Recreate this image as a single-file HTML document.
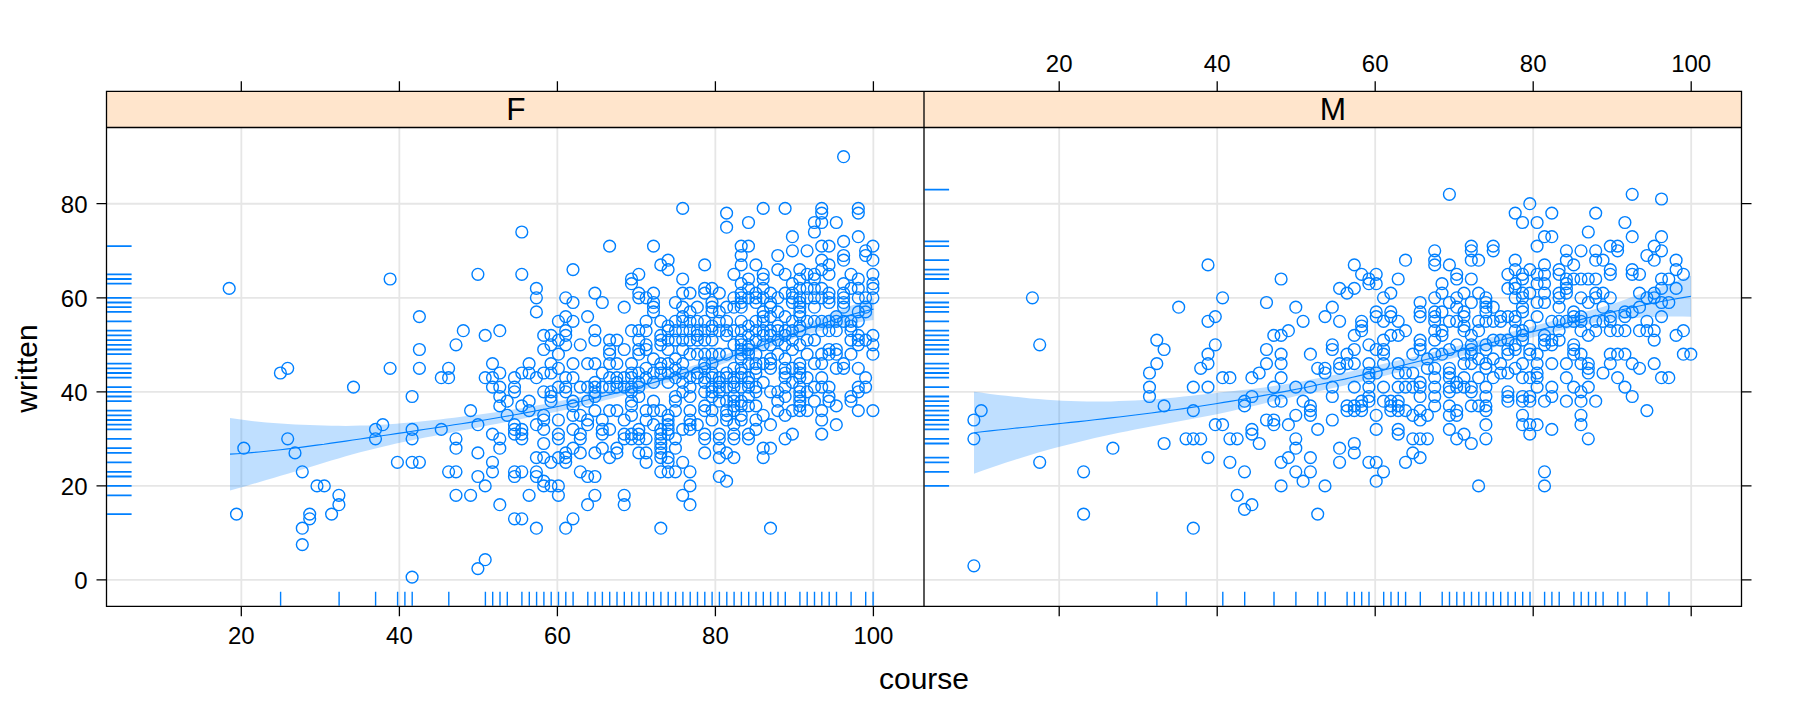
<!DOCTYPE html>
<html lang="en"><head><meta charset="utf-8"><title>written ~ course | gender</title>
<style>html,body{margin:0;padding:0;background:#fff}svg{display:block}text{font-family:"Liberation Sans",Arial,Helvetica,sans-serif;fill:#000}.t{font-size:24px}.l{font-size:30px}.ax{stroke:#000;stroke-width:1.3;fill:none}.g{stroke:#e6e6e6;stroke-width:1.8;fill:none}.p{stroke:#0080ff;stroke-width:1.4;fill:none}.r{stroke:#0080ff;stroke-width:1.4;fill:none}.b{fill:#0080ff;fill-opacity:.25;stroke:none}.s{stroke:#0080ff;stroke-width:1.15;fill:none}</style></head><body>
<svg width="1800" height="720" viewBox="0 0 1800 720">
<rect width="1800" height="720" fill="#fff"/>
<defs><clipPath id="cf"><rect x="106.5" y="127.5" width="817.5" height="478.8"/></clipPath><clipPath id="cm"><rect x="924" y="127.5" width="817.5" height="478.8"/></clipPath></defs>
<path class="g" d="M106.5 579.9H1741.5M106.5 485.86H1741.5M106.5 391.82H1741.5M106.5 297.78H1741.5M106.5 203.74H1741.5M241.35 127.5V606.3M1059.2 127.5V606.3M399.35 127.5V606.3M1217.2 127.5V606.3M557.35 127.5V606.3M1375.2 127.5V606.3M715.35 127.5V606.3M1533.2 127.5V606.3M873.35 127.5V606.3M1691.2 127.5V606.3"/>
<polygon class="b" points="230.0,417.9 237.2,419.0 244.5,420.1 251.7,421.0 258.9,421.8 266.2,422.5 273.4,423.1 280.6,423.6 287.8,424.1 295.1,424.4 302.3,424.8 309.5,425.0 316.8,425.3 324.0,425.5 331.2,425.7 338.5,425.8 345.7,425.9 352.9,425.8 360.1,425.6 367.4,425.4 374.6,425.0 381.8,424.7 389.1,424.2 396.3,423.7 403.5,423.1 410.8,422.4 418.0,421.7 425.2,421.0 432.4,420.2 439.7,419.4 446.9,418.5 454.1,417.7 461.4,416.8 468.6,415.8 475.8,414.9 483.1,413.9 490.3,412.9 497.5,411.9 504.8,410.8 512.0,409.7 519.2,408.6 526.4,407.4 533.7,406.1 540.9,404.8 548.1,403.4 555.4,402.0 562.6,400.5 569.8,399.0 577.1,397.5 584.3,395.9 591.5,394.3 598.7,392.6 606.0,390.9 613.2,389.1 620.4,387.3 627.7,385.4 634.9,383.4 642.1,381.4 649.4,379.3 656.6,377.2 663.8,375.1 671.1,372.8 678.3,370.5 685.5,368.2 692.7,365.8 700.0,363.4 707.2,361.0 714.4,358.4 721.7,355.9 728.9,353.3 736.1,350.7 743.4,348.0 750.6,345.3 757.8,342.6 765.0,339.8 772.3,337.1 779.5,334.3 786.7,331.4 794.0,328.6 801.2,325.7 808.4,322.8 815.7,319.8 822.9,316.8 830.1,313.8 837.3,311.0 844.6,308.2 851.8,305.5 859.0,302.9 866.3,300.4 873.5,298.0 873.5,320.1 866.3,321.1 859.0,322.2 851.8,323.6 844.6,325.0 837.3,326.7 830.1,328.4 822.9,330.2 815.7,332.1 808.4,334.1 801.2,336.3 794.0,338.6 786.7,341.0 779.5,343.5 772.3,346.1 765.0,348.7 757.8,351.3 750.6,353.9 743.4,356.5 736.1,359.1 728.9,361.7 721.7,364.3 714.4,366.9 707.2,369.4 700.0,371.9 692.7,374.3 685.5,376.7 678.3,379.1 671.1,381.4 663.8,383.7 656.6,385.9 649.4,388.1 642.1,390.2 634.9,392.3 627.7,394.3 620.4,396.3 613.2,398.3 606.0,400.1 598.7,402.0 591.5,403.8 584.3,405.5 577.1,407.2 569.8,408.9 562.6,410.5 555.4,412.0 548.1,413.5 540.9,415.0 533.7,416.5 526.4,417.9 519.2,419.4 512.0,420.8 504.8,422.3 497.5,423.7 490.3,425.1 483.1,426.5 475.8,427.9 468.6,429.3 461.4,430.6 454.1,432.0 446.9,433.4 439.7,434.8 432.4,436.2 425.2,437.6 418.0,439.1 410.8,440.5 403.5,442.0 396.3,443.6 389.1,445.2 381.8,446.9 374.6,448.7 367.4,450.5 360.1,452.3 352.9,454.3 345.7,456.3 338.5,458.4 331.2,460.6 324.0,462.8 316.8,465.0 309.5,467.2 302.3,469.4 295.1,471.5 287.8,473.7 280.6,475.8 273.4,478.0 266.2,480.1 258.9,482.2 251.7,484.3 244.5,486.4 237.2,488.4 230.0,490.4"/>
<polyline class="s" points="230.0,454.1 237.2,453.7 244.5,453.2 251.7,452.6 258.9,452.0 266.2,451.3 273.4,450.5 280.6,449.7 287.8,448.9 295.1,448.0 302.3,447.1 309.5,446.1 316.8,445.1 324.0,444.2 331.2,443.1 338.5,442.1 345.7,441.1 352.9,440.0 360.1,439.0 367.4,437.9 374.6,436.9 381.8,435.8 389.1,434.7 396.3,433.6 403.5,432.6 410.8,431.5 418.0,430.4 425.2,429.3 432.4,428.2 439.7,427.1 446.9,426.0 454.1,424.8 461.4,423.7 468.6,422.6 475.8,421.4 483.1,420.2 490.3,419.0 497.5,417.8 504.8,416.5 512.0,415.3 519.2,414.0 526.4,412.6 533.7,411.3 540.9,409.9 548.1,408.5 555.4,407.0 562.6,405.5 569.8,403.9 577.1,402.3 584.3,400.7 591.5,399.0 598.7,397.3 606.0,395.5 613.2,393.7 620.4,391.8 627.7,389.9 634.9,387.9 642.1,385.8 649.4,383.7 656.6,381.6 663.8,379.4 671.1,377.1 678.3,374.8 685.5,372.5 692.7,370.1 700.0,367.6 707.2,365.2 714.4,362.6 721.7,360.1 728.9,357.5 736.1,354.9 743.4,352.2 750.6,349.6 757.8,346.9 765.0,344.2 772.3,341.6 779.5,338.9 786.7,336.2 794.0,333.6 801.2,331.0 808.4,328.4 815.7,325.9 822.9,323.5 830.1,321.1 837.3,318.8 844.6,316.6 851.8,314.5 859.0,312.6 866.3,310.7 873.5,309.1"/>
<polygon class="b" points="974.0,391.7 982.1,392.8 990.1,393.9 998.2,394.9 1006.2,395.8 1014.3,396.7 1022.3,397.5 1030.4,398.4 1038.4,399.1 1046.5,399.8 1054.6,400.3 1062.6,400.7 1070.7,401.0 1078.7,401.2 1086.8,401.4 1094.8,401.5 1102.9,401.5 1111.0,401.4 1119.0,401.1 1127.1,400.8 1135.1,400.5 1143.2,400.0 1151.2,399.5 1159.3,398.9 1167.3,398.2 1175.4,397.4 1183.5,396.6 1191.5,395.7 1199.6,394.8 1207.6,393.9 1215.7,393.0 1223.7,392.1 1231.8,391.2 1239.9,390.3 1247.9,389.4 1256.0,388.4 1264.0,387.4 1272.1,386.3 1280.1,385.1 1288.2,383.8 1296.2,382.4 1304.3,380.9 1312.4,379.3 1320.4,377.7 1328.5,376.1 1336.5,374.4 1344.6,372.7 1352.6,370.9 1360.7,369.1 1368.8,367.3 1376.8,365.5 1384.9,363.6 1392.9,361.7 1401.0,359.8 1409.0,357.9 1417.1,356.0 1425.1,354.0 1433.2,352.0 1441.3,350.0 1449.3,348.0 1457.4,345.9 1465.4,343.8 1473.5,341.7 1481.5,339.6 1489.6,337.5 1497.7,335.4 1505.7,333.3 1513.8,331.2 1521.8,329.1 1529.9,326.9 1537.9,324.8 1546.0,322.7 1554.0,320.5 1562.1,318.3 1570.2,316.1 1578.2,313.8 1586.3,311.6 1594.3,309.3 1602.4,307.0 1610.4,304.6 1618.5,301.9 1626.6,299.0 1634.6,296.0 1642.7,293.1 1650.7,290.2 1658.8,287.3 1666.8,284.4 1674.9,281.5 1682.9,278.6 1691.0,275.7 1691.0,316.8 1682.9,316.6 1674.9,316.4 1666.8,316.5 1658.8,316.7 1650.7,317.0 1642.7,317.4 1634.6,317.9 1626.6,318.5 1618.5,319.2 1610.4,320.1 1602.4,321.5 1594.3,323.1 1586.3,324.7 1578.2,326.4 1570.2,328.2 1562.1,330.1 1554.0,332.0 1546.0,333.9 1537.9,336.0 1529.9,338.0 1521.8,340.2 1513.8,342.3 1505.7,344.4 1497.7,346.5 1489.6,348.7 1481.5,350.8 1473.5,352.9 1465.4,355.0 1457.4,357.1 1449.3,359.2 1441.3,361.3 1433.2,363.5 1425.1,365.6 1417.1,367.7 1409.0,369.7 1401.0,371.8 1392.9,373.8 1384.9,375.8 1376.8,377.8 1368.8,379.8 1360.7,381.7 1352.6,383.6 1344.6,385.4 1336.5,387.3 1328.5,389.1 1320.4,390.9 1312.4,392.6 1304.3,394.4 1296.2,396.1 1288.2,397.9 1280.1,399.8 1272.1,401.6 1264.0,403.5 1256.0,405.4 1247.9,407.3 1239.9,409.1 1231.8,410.9 1223.7,412.7 1215.7,414.4 1207.6,416.0 1199.6,417.6 1191.5,419.1 1183.5,420.5 1175.4,422.0 1167.3,423.5 1159.3,425.0 1151.2,426.5 1143.2,428.0 1135.1,429.6 1127.1,431.2 1119.0,432.8 1111.0,434.5 1102.9,436.3 1094.8,438.1 1086.8,440.0 1078.7,441.9 1070.7,443.9 1062.6,445.9 1054.6,448.0 1046.5,450.2 1038.4,452.5 1030.4,455.0 1022.3,457.5 1014.3,460.0 1006.2,462.6 998.2,465.2 990.1,468.0 982.1,470.8 974.0,473.7"/>
<polyline class="s" points="974.0,432.7 982.1,431.8 990.1,430.9 998.2,430.0 1006.2,429.2 1014.3,428.3 1022.3,427.5 1030.4,426.7 1038.4,425.8 1046.5,425.0 1054.6,424.1 1062.6,423.3 1070.7,422.4 1078.7,421.6 1086.8,420.7 1094.8,419.8 1102.9,418.9 1111.0,417.9 1119.0,417.0 1127.1,416.0 1135.1,415.0 1143.2,414.0 1151.2,413.0 1159.3,411.9 1167.3,410.8 1175.4,409.7 1183.5,408.6 1191.5,407.4 1199.6,406.2 1207.6,405.0 1215.7,403.7 1223.7,402.4 1231.8,401.1 1239.9,399.7 1247.9,398.3 1256.0,396.9 1264.0,395.4 1272.1,394.0 1280.1,392.4 1288.2,390.9 1296.2,389.3 1304.3,387.7 1312.4,386.0 1320.4,384.3 1328.5,382.6 1336.5,380.8 1344.6,379.1 1352.6,377.2 1360.7,375.4 1368.8,373.5 1376.8,371.6 1384.9,369.7 1392.9,367.8 1401.0,365.8 1409.0,363.8 1417.1,361.8 1425.1,359.8 1433.2,357.8 1441.3,355.7 1449.3,353.6 1457.4,351.5 1465.4,349.4 1473.5,347.3 1481.5,345.2 1489.6,343.1 1497.7,341.0 1505.7,338.8 1513.8,336.7 1521.8,334.6 1529.9,332.5 1537.9,330.4 1546.0,328.3 1554.0,326.2 1562.1,324.2 1570.2,322.1 1578.2,320.1 1586.3,318.1 1594.3,316.2 1602.4,314.3 1610.4,312.4 1618.5,310.5 1626.6,308.7 1634.6,307.0 1642.7,305.3 1650.7,303.6 1658.8,302.0 1666.8,300.5 1674.9,299.0 1682.9,297.6 1691.0,296.2"/>
<g class="p" clip-path="url(#cf)">
<circle cx="229.2" cy="288.4" r="5.9"/><circle cx="390.1" cy="279.0" r="5.9"/><circle cx="477.9" cy="274.3" r="5.9"/><circle cx="419.4" cy="316.6" r="5.9"/><circle cx="463.3" cy="330.7" r="5.9"/><circle cx="456.0" cy="344.8" r="5.9"/><circle cx="419.4" cy="349.5" r="5.9"/><circle cx="390.1" cy="368.3" r="5.9"/><circle cx="419.4" cy="368.3" r="5.9"/><circle cx="287.7" cy="368.3" r="5.9"/><circle cx="280.4" cy="373.0" r="5.9"/><circle cx="448.6" cy="368.3" r="5.9"/><circle cx="441.3" cy="377.7" r="5.9"/><circle cx="448.6" cy="377.7" r="5.9"/><circle cx="353.5" cy="387.1" r="5.9"/><circle cx="412.1" cy="396.5" r="5.9"/><circle cx="470.6" cy="410.6" r="5.9"/><circle cx="382.8" cy="424.7" r="5.9"/><circle cx="375.5" cy="429.4" r="5.9"/><circle cx="412.1" cy="429.4" r="5.9"/><circle cx="441.3" cy="429.4" r="5.9"/><circle cx="477.9" cy="424.7" r="5.9"/><circle cx="375.5" cy="438.8" r="5.9"/><circle cx="412.1" cy="438.8" r="5.9"/><circle cx="456.0" cy="438.8" r="5.9"/><circle cx="287.7" cy="438.8" r="5.9"/><circle cx="243.8" cy="448.2" r="5.9"/><circle cx="295.0" cy="452.9" r="5.9"/><circle cx="456.0" cy="448.2" r="5.9"/><circle cx="477.9" cy="452.9" r="5.9"/><circle cx="397.4" cy="462.3" r="5.9"/><circle cx="412.1" cy="462.3" r="5.9"/><circle cx="419.4" cy="462.3" r="5.9"/><circle cx="302.3" cy="471.8" r="5.9"/><circle cx="448.6" cy="471.8" r="5.9"/><circle cx="456.0" cy="471.8" r="5.9"/><circle cx="477.9" cy="476.5" r="5.9"/><circle cx="317.0" cy="485.9" r="5.9"/><circle cx="324.3" cy="485.9" r="5.9"/><circle cx="338.9" cy="495.3" r="5.9"/><circle cx="338.9" cy="504.7" r="5.9"/><circle cx="331.6" cy="514.1" r="5.9"/><circle cx="309.7" cy="514.1" r="5.9"/><circle cx="309.7" cy="518.8" r="5.9"/><circle cx="302.3" cy="528.2" r="5.9"/><circle cx="302.3" cy="544.6" r="5.9"/><circle cx="236.5" cy="514.1" r="5.9"/><circle cx="412.1" cy="577.1" r="5.9"/><circle cx="485.2" cy="559.7" r="5.9"/><circle cx="477.9" cy="568.6" r="5.9"/><circle cx="456.0" cy="495.3" r="5.9"/><circle cx="470.6" cy="495.3" r="5.9"/><circle cx="682.7" cy="208.4" r="5.9"/><circle cx="726.6" cy="213.1" r="5.9"/><circle cx="521.8" cy="232.0" r="5.9"/><circle cx="609.6" cy="246.1" r="5.9"/><circle cx="573.0" cy="269.6" r="5.9"/><circle cx="521.8" cy="274.3" r="5.9"/><circle cx="536.4" cy="288.4" r="5.9"/><circle cx="536.4" cy="297.8" r="5.9"/><circle cx="565.7" cy="297.8" r="5.9"/><circle cx="573.0" cy="302.5" r="5.9"/><circle cx="594.9" cy="293.1" r="5.9"/><circle cx="602.3" cy="302.5" r="5.9"/><circle cx="624.2" cy="307.2" r="5.9"/><circle cx="536.4" cy="311.9" r="5.9"/><circle cx="565.7" cy="316.6" r="5.9"/><circle cx="587.6" cy="316.6" r="5.9"/><circle cx="558.4" cy="321.3" r="5.9"/><circle cx="573.0" cy="321.3" r="5.9"/><circle cx="565.7" cy="330.7" r="5.9"/><circle cx="499.8" cy="330.7" r="5.9"/><circle cx="594.9" cy="330.7" r="5.9"/><circle cx="565.7" cy="335.4" r="5.9"/><circle cx="485.2" cy="335.4" r="5.9"/><circle cx="543.7" cy="335.4" r="5.9"/><circle cx="551.0" cy="335.4" r="5.9"/><circle cx="558.4" cy="340.1" r="5.9"/><circle cx="594.9" cy="340.1" r="5.9"/><circle cx="609.6" cy="340.1" r="5.9"/><circle cx="616.9" cy="340.1" r="5.9"/><circle cx="565.7" cy="344.8" r="5.9"/><circle cx="551.0" cy="344.8" r="5.9"/><circle cx="580.3" cy="344.8" r="5.9"/><circle cx="543.7" cy="349.5" r="5.9"/><circle cx="609.6" cy="349.5" r="5.9"/><circle cx="624.2" cy="349.5" r="5.9"/><circle cx="558.4" cy="354.2" r="5.9"/><circle cx="609.6" cy="354.2" r="5.9"/><circle cx="492.5" cy="363.6" r="5.9"/><circle cx="529.1" cy="363.6" r="5.9"/><circle cx="551.0" cy="363.6" r="5.9"/><circle cx="573.0" cy="363.6" r="5.9"/><circle cx="587.6" cy="363.6" r="5.9"/><circle cx="594.9" cy="363.6" r="5.9"/><circle cx="609.6" cy="363.6" r="5.9"/><circle cx="616.9" cy="363.6" r="5.9"/><circle cx="558.4" cy="368.3" r="5.9"/><circle cx="499.8" cy="373.0" r="5.9"/><circle cx="521.8" cy="373.0" r="5.9"/><circle cx="529.1" cy="373.0" r="5.9"/><circle cx="543.7" cy="373.0" r="5.9"/><circle cx="551.0" cy="373.0" r="5.9"/><circle cx="602.3" cy="373.0" r="5.9"/><circle cx="485.2" cy="377.7" r="5.9"/><circle cx="492.5" cy="377.7" r="5.9"/><circle cx="514.5" cy="377.7" r="5.9"/><circle cx="536.4" cy="377.7" r="5.9"/><circle cx="565.7" cy="377.7" r="5.9"/><circle cx="573.0" cy="377.7" r="5.9"/><circle cx="609.6" cy="377.7" r="5.9"/><circle cx="616.9" cy="377.7" r="5.9"/><circle cx="624.2" cy="377.7" r="5.9"/><circle cx="492.5" cy="387.1" r="5.9"/><circle cx="499.8" cy="387.1" r="5.9"/><circle cx="514.5" cy="387.1" r="5.9"/><circle cx="558.4" cy="387.1" r="5.9"/><circle cx="565.7" cy="387.1" r="5.9"/><circle cx="580.3" cy="387.1" r="5.9"/><circle cx="587.6" cy="387.1" r="5.9"/><circle cx="594.9" cy="387.1" r="5.9"/><circle cx="609.6" cy="387.1" r="5.9"/><circle cx="616.9" cy="387.1" r="5.9"/><circle cx="514.5" cy="391.8" r="5.9"/><circle cx="543.7" cy="391.8" r="5.9"/><circle cx="551.0" cy="391.8" r="5.9"/><circle cx="565.7" cy="391.8" r="5.9"/><circle cx="594.9" cy="391.8" r="5.9"/><circle cx="499.8" cy="396.5" r="5.9"/><circle cx="551.0" cy="396.5" r="5.9"/><circle cx="594.9" cy="396.5" r="5.9"/><circle cx="507.2" cy="401.2" r="5.9"/><circle cx="529.1" cy="401.2" r="5.9"/><circle cx="551.0" cy="401.2" r="5.9"/><circle cx="573.0" cy="401.2" r="5.9"/><circle cx="499.8" cy="405.9" r="5.9"/><circle cx="521.8" cy="405.9" r="5.9"/><circle cx="573.0" cy="405.9" r="5.9"/><circle cx="529.1" cy="410.6" r="5.9"/><circle cx="594.9" cy="410.6" r="5.9"/><circle cx="609.6" cy="410.6" r="5.9"/><circle cx="616.9" cy="410.6" r="5.9"/><circle cx="507.2" cy="415.3" r="5.9"/><circle cx="543.7" cy="415.3" r="5.9"/><circle cx="573.0" cy="415.3" r="5.9"/><circle cx="580.3" cy="415.3" r="5.9"/><circle cx="543.7" cy="420.0" r="5.9"/><circle cx="558.4" cy="420.0" r="5.9"/><circle cx="587.6" cy="420.0" r="5.9"/><circle cx="602.3" cy="420.0" r="5.9"/><circle cx="624.2" cy="420.0" r="5.9"/><circle cx="514.5" cy="424.7" r="5.9"/><circle cx="536.4" cy="424.7" r="5.9"/><circle cx="587.6" cy="424.7" r="5.9"/><circle cx="514.5" cy="429.4" r="5.9"/><circle cx="521.8" cy="429.4" r="5.9"/><circle cx="543.7" cy="429.4" r="5.9"/><circle cx="573.0" cy="429.4" r="5.9"/><circle cx="602.3" cy="429.4" r="5.9"/><circle cx="609.6" cy="429.4" r="5.9"/><circle cx="492.5" cy="434.1" r="5.9"/><circle cx="514.5" cy="434.1" r="5.9"/><circle cx="521.8" cy="434.1" r="5.9"/><circle cx="558.4" cy="434.1" r="5.9"/><circle cx="580.3" cy="434.1" r="5.9"/><circle cx="602.3" cy="434.1" r="5.9"/><circle cx="624.2" cy="434.1" r="5.9"/><circle cx="499.8" cy="438.8" r="5.9"/><circle cx="521.8" cy="438.8" r="5.9"/><circle cx="558.4" cy="438.8" r="5.9"/><circle cx="580.3" cy="438.8" r="5.9"/><circle cx="624.2" cy="438.8" r="5.9"/><circle cx="543.7" cy="443.5" r="5.9"/><circle cx="499.8" cy="448.2" r="5.9"/><circle cx="573.0" cy="448.2" r="5.9"/><circle cx="602.3" cy="448.2" r="5.9"/><circle cx="616.9" cy="448.2" r="5.9"/><circle cx="565.7" cy="452.9" r="5.9"/><circle cx="580.3" cy="452.9" r="5.9"/><circle cx="594.9" cy="452.9" r="5.9"/><circle cx="616.9" cy="452.9" r="5.9"/><circle cx="536.4" cy="457.6" r="5.9"/><circle cx="543.7" cy="457.6" r="5.9"/><circle cx="558.4" cy="457.6" r="5.9"/><circle cx="565.7" cy="457.6" r="5.9"/><circle cx="609.6" cy="457.6" r="5.9"/><circle cx="492.5" cy="462.3" r="5.9"/><circle cx="551.0" cy="462.3" r="5.9"/><circle cx="565.7" cy="462.3" r="5.9"/><circle cx="492.5" cy="471.8" r="5.9"/><circle cx="514.5" cy="471.8" r="5.9"/><circle cx="521.8" cy="471.8" r="5.9"/><circle cx="536.4" cy="471.8" r="5.9"/><circle cx="580.3" cy="471.8" r="5.9"/><circle cx="514.5" cy="476.5" r="5.9"/><circle cx="536.4" cy="476.5" r="5.9"/><circle cx="587.6" cy="476.5" r="5.9"/><circle cx="594.9" cy="476.5" r="5.9"/><circle cx="543.7" cy="481.2" r="5.9"/><circle cx="485.2" cy="485.9" r="5.9"/><circle cx="543.7" cy="485.9" r="5.9"/><circle cx="551.0" cy="485.9" r="5.9"/><circle cx="558.4" cy="485.9" r="5.9"/><circle cx="529.1" cy="495.3" r="5.9"/><circle cx="558.4" cy="495.3" r="5.9"/><circle cx="594.9" cy="495.3" r="5.9"/><circle cx="624.2" cy="495.3" r="5.9"/><circle cx="499.8" cy="504.7" r="5.9"/><circle cx="587.6" cy="504.7" r="5.9"/><circle cx="624.2" cy="504.7" r="5.9"/><circle cx="514.5" cy="518.8" r="5.9"/><circle cx="521.8" cy="518.8" r="5.9"/><circle cx="573.0" cy="518.8" r="5.9"/><circle cx="536.4" cy="528.2" r="5.9"/><circle cx="565.7" cy="528.2" r="5.9"/><circle cx="748.5" cy="222.5" r="5.9"/><circle cx="726.6" cy="227.2" r="5.9"/><circle cx="653.5" cy="246.1" r="5.9"/><circle cx="741.2" cy="246.1" r="5.9"/><circle cx="748.5" cy="246.1" r="5.9"/><circle cx="741.2" cy="255.5" r="5.9"/><circle cx="668.1" cy="260.2" r="5.9"/><circle cx="660.8" cy="264.9" r="5.9"/><circle cx="704.7" cy="264.9" r="5.9"/><circle cx="741.2" cy="264.9" r="5.9"/><circle cx="755.9" cy="264.9" r="5.9"/><circle cx="668.1" cy="269.6" r="5.9"/><circle cx="638.8" cy="274.3" r="5.9"/><circle cx="733.9" cy="274.3" r="5.9"/><circle cx="763.2" cy="274.3" r="5.9"/><circle cx="631.5" cy="279.0" r="5.9"/><circle cx="682.7" cy="279.0" r="5.9"/><circle cx="748.5" cy="279.0" r="5.9"/><circle cx="763.2" cy="279.0" r="5.9"/><circle cx="631.5" cy="283.7" r="5.9"/><circle cx="741.2" cy="283.7" r="5.9"/><circle cx="704.7" cy="288.4" r="5.9"/><circle cx="712.0" cy="288.4" r="5.9"/><circle cx="748.5" cy="288.4" r="5.9"/><circle cx="763.2" cy="288.4" r="5.9"/><circle cx="638.8" cy="293.1" r="5.9"/><circle cx="653.5" cy="293.1" r="5.9"/><circle cx="682.7" cy="293.1" r="5.9"/><circle cx="690.0" cy="293.1" r="5.9"/><circle cx="704.7" cy="293.1" r="5.9"/><circle cx="719.3" cy="293.1" r="5.9"/><circle cx="741.2" cy="293.1" r="5.9"/><circle cx="755.9" cy="293.1" r="5.9"/><circle cx="638.8" cy="297.8" r="5.9"/><circle cx="646.1" cy="297.8" r="5.9"/><circle cx="733.9" cy="297.8" r="5.9"/><circle cx="741.2" cy="297.8" r="5.9"/><circle cx="748.5" cy="297.8" r="5.9"/><circle cx="755.9" cy="297.8" r="5.9"/><circle cx="763.2" cy="297.8" r="5.9"/><circle cx="653.5" cy="302.5" r="5.9"/><circle cx="675.4" cy="302.5" r="5.9"/><circle cx="712.0" cy="302.5" r="5.9"/><circle cx="741.2" cy="302.5" r="5.9"/><circle cx="755.9" cy="302.5" r="5.9"/><circle cx="653.5" cy="307.2" r="5.9"/><circle cx="682.7" cy="307.2" r="5.9"/><circle cx="697.3" cy="307.2" r="5.9"/><circle cx="712.0" cy="307.2" r="5.9"/><circle cx="726.6" cy="307.2" r="5.9"/><circle cx="733.9" cy="307.2" r="5.9"/><circle cx="741.2" cy="307.2" r="5.9"/><circle cx="653.5" cy="311.9" r="5.9"/><circle cx="690.0" cy="311.9" r="5.9"/><circle cx="712.0" cy="311.9" r="5.9"/><circle cx="719.3" cy="311.9" r="5.9"/><circle cx="763.2" cy="311.9" r="5.9"/><circle cx="682.7" cy="316.6" r="5.9"/><circle cx="763.2" cy="316.6" r="5.9"/><circle cx="646.1" cy="321.3" r="5.9"/><circle cx="660.8" cy="321.3" r="5.9"/><circle cx="675.4" cy="321.3" r="5.9"/><circle cx="682.7" cy="321.3" r="5.9"/><circle cx="690.0" cy="321.3" r="5.9"/><circle cx="697.3" cy="321.3" r="5.9"/><circle cx="704.7" cy="321.3" r="5.9"/><circle cx="719.3" cy="321.3" r="5.9"/><circle cx="726.6" cy="321.3" r="5.9"/><circle cx="741.2" cy="321.3" r="5.9"/><circle cx="755.9" cy="321.3" r="5.9"/><circle cx="763.2" cy="321.3" r="5.9"/><circle cx="668.1" cy="326.0" r="5.9"/><circle cx="712.0" cy="326.0" r="5.9"/><circle cx="748.5" cy="326.0" r="5.9"/><circle cx="631.5" cy="330.7" r="5.9"/><circle cx="638.8" cy="330.7" r="5.9"/><circle cx="646.1" cy="330.7" r="5.9"/><circle cx="668.1" cy="330.7" r="5.9"/><circle cx="675.4" cy="330.7" r="5.9"/><circle cx="682.7" cy="330.7" r="5.9"/><circle cx="690.0" cy="330.7" r="5.9"/><circle cx="697.3" cy="330.7" r="5.9"/><circle cx="704.7" cy="330.7" r="5.9"/><circle cx="712.0" cy="330.7" r="5.9"/><circle cx="719.3" cy="330.7" r="5.9"/><circle cx="726.6" cy="330.7" r="5.9"/><circle cx="733.9" cy="330.7" r="5.9"/><circle cx="741.2" cy="330.7" r="5.9"/><circle cx="755.9" cy="330.7" r="5.9"/><circle cx="763.2" cy="330.7" r="5.9"/><circle cx="660.8" cy="335.4" r="5.9"/><circle cx="697.3" cy="335.4" r="5.9"/><circle cx="726.6" cy="335.4" r="5.9"/><circle cx="748.5" cy="335.4" r="5.9"/><circle cx="763.2" cy="335.4" r="5.9"/><circle cx="638.8" cy="340.1" r="5.9"/><circle cx="660.8" cy="340.1" r="5.9"/><circle cx="668.1" cy="340.1" r="5.9"/><circle cx="675.4" cy="340.1" r="5.9"/><circle cx="682.7" cy="340.1" r="5.9"/><circle cx="690.0" cy="340.1" r="5.9"/><circle cx="697.3" cy="340.1" r="5.9"/><circle cx="704.7" cy="340.1" r="5.9"/><circle cx="712.0" cy="340.1" r="5.9"/><circle cx="741.2" cy="340.1" r="5.9"/><circle cx="755.9" cy="340.1" r="5.9"/><circle cx="646.1" cy="344.8" r="5.9"/><circle cx="660.8" cy="344.8" r="5.9"/><circle cx="733.9" cy="344.8" r="5.9"/><circle cx="741.2" cy="344.8" r="5.9"/><circle cx="748.5" cy="344.8" r="5.9"/><circle cx="763.2" cy="344.8" r="5.9"/><circle cx="638.8" cy="349.5" r="5.9"/><circle cx="646.1" cy="349.5" r="5.9"/><circle cx="668.1" cy="349.5" r="5.9"/><circle cx="682.7" cy="349.5" r="5.9"/><circle cx="741.2" cy="349.5" r="5.9"/><circle cx="748.5" cy="349.5" r="5.9"/><circle cx="638.8" cy="354.2" r="5.9"/><circle cx="690.0" cy="354.2" r="5.9"/><circle cx="697.3" cy="354.2" r="5.9"/><circle cx="704.7" cy="354.2" r="5.9"/><circle cx="712.0" cy="354.2" r="5.9"/><circle cx="719.3" cy="354.2" r="5.9"/><circle cx="726.6" cy="354.2" r="5.9"/><circle cx="741.2" cy="354.2" r="5.9"/><circle cx="748.5" cy="354.2" r="5.9"/><circle cx="755.9" cy="354.2" r="5.9"/><circle cx="653.5" cy="358.9" r="5.9"/><circle cx="675.4" cy="358.9" r="5.9"/><circle cx="741.2" cy="358.9" r="5.9"/><circle cx="631.5" cy="363.6" r="5.9"/><circle cx="660.8" cy="363.6" r="5.9"/><circle cx="668.1" cy="363.6" r="5.9"/><circle cx="682.7" cy="363.6" r="5.9"/><circle cx="704.7" cy="363.6" r="5.9"/><circle cx="712.0" cy="363.6" r="5.9"/><circle cx="748.5" cy="363.6" r="5.9"/><circle cx="755.9" cy="363.6" r="5.9"/><circle cx="763.2" cy="363.6" r="5.9"/><circle cx="646.1" cy="368.3" r="5.9"/><circle cx="660.8" cy="368.3" r="5.9"/><circle cx="675.4" cy="368.3" r="5.9"/><circle cx="704.7" cy="368.3" r="5.9"/><circle cx="733.9" cy="368.3" r="5.9"/><circle cx="741.2" cy="368.3" r="5.9"/><circle cx="755.9" cy="368.3" r="5.9"/><circle cx="631.5" cy="373.0" r="5.9"/><circle cx="638.8" cy="373.0" r="5.9"/><circle cx="653.5" cy="373.0" r="5.9"/><circle cx="660.8" cy="373.0" r="5.9"/><circle cx="668.1" cy="373.0" r="5.9"/><circle cx="682.7" cy="373.0" r="5.9"/><circle cx="697.3" cy="373.0" r="5.9"/><circle cx="712.0" cy="373.0" r="5.9"/><circle cx="726.6" cy="373.0" r="5.9"/><circle cx="741.2" cy="373.0" r="5.9"/><circle cx="755.9" cy="373.0" r="5.9"/><circle cx="631.5" cy="377.7" r="5.9"/><circle cx="646.1" cy="377.7" r="5.9"/><circle cx="675.4" cy="377.7" r="5.9"/><circle cx="690.0" cy="377.7" r="5.9"/><circle cx="697.3" cy="377.7" r="5.9"/><circle cx="704.7" cy="377.7" r="5.9"/><circle cx="712.0" cy="377.7" r="5.9"/><circle cx="719.3" cy="377.7" r="5.9"/><circle cx="726.6" cy="377.7" r="5.9"/><circle cx="733.9" cy="377.7" r="5.9"/><circle cx="741.2" cy="377.7" r="5.9"/><circle cx="748.5" cy="377.7" r="5.9"/><circle cx="638.8" cy="382.4" r="5.9"/><circle cx="653.5" cy="382.4" r="5.9"/><circle cx="668.1" cy="382.4" r="5.9"/><circle cx="682.7" cy="382.4" r="5.9"/><circle cx="704.7" cy="382.4" r="5.9"/><circle cx="719.3" cy="382.4" r="5.9"/><circle cx="733.9" cy="382.4" r="5.9"/><circle cx="748.5" cy="382.4" r="5.9"/><circle cx="763.2" cy="382.4" r="5.9"/><circle cx="638.8" cy="387.1" r="5.9"/><circle cx="690.0" cy="387.1" r="5.9"/><circle cx="712.0" cy="387.1" r="5.9"/><circle cx="719.3" cy="387.1" r="5.9"/><circle cx="726.6" cy="387.1" r="5.9"/><circle cx="733.9" cy="387.1" r="5.9"/><circle cx="741.2" cy="387.1" r="5.9"/><circle cx="748.5" cy="387.1" r="5.9"/><circle cx="755.9" cy="387.1" r="5.9"/><circle cx="631.5" cy="391.8" r="5.9"/><circle cx="682.7" cy="391.8" r="5.9"/><circle cx="704.7" cy="391.8" r="5.9"/><circle cx="712.0" cy="391.8" r="5.9"/><circle cx="719.3" cy="391.8" r="5.9"/><circle cx="755.9" cy="391.8" r="5.9"/><circle cx="638.8" cy="396.5" r="5.9"/><circle cx="675.4" cy="396.5" r="5.9"/><circle cx="690.0" cy="396.5" r="5.9"/><circle cx="712.0" cy="396.5" r="5.9"/><circle cx="733.9" cy="396.5" r="5.9"/><circle cx="748.5" cy="396.5" r="5.9"/><circle cx="631.5" cy="401.2" r="5.9"/><circle cx="653.5" cy="401.2" r="5.9"/><circle cx="675.4" cy="401.2" r="5.9"/><circle cx="719.3" cy="401.2" r="5.9"/><circle cx="726.6" cy="401.2" r="5.9"/><circle cx="733.9" cy="401.2" r="5.9"/><circle cx="741.2" cy="401.2" r="5.9"/><circle cx="631.5" cy="405.9" r="5.9"/><circle cx="704.7" cy="405.9" r="5.9"/><circle cx="733.9" cy="405.9" r="5.9"/><circle cx="741.2" cy="405.9" r="5.9"/><circle cx="748.5" cy="405.9" r="5.9"/><circle cx="755.9" cy="405.9" r="5.9"/><circle cx="646.1" cy="410.6" r="5.9"/><circle cx="653.5" cy="410.6" r="5.9"/><circle cx="660.8" cy="410.6" r="5.9"/><circle cx="675.4" cy="410.6" r="5.9"/><circle cx="690.0" cy="410.6" r="5.9"/><circle cx="704.7" cy="410.6" r="5.9"/><circle cx="712.0" cy="410.6" r="5.9"/><circle cx="726.6" cy="410.6" r="5.9"/><circle cx="733.9" cy="410.6" r="5.9"/><circle cx="631.5" cy="415.3" r="5.9"/><circle cx="668.1" cy="415.3" r="5.9"/><circle cx="726.6" cy="415.3" r="5.9"/><circle cx="741.2" cy="415.3" r="5.9"/><circle cx="763.2" cy="415.3" r="5.9"/><circle cx="646.1" cy="420.0" r="5.9"/><circle cx="668.1" cy="420.0" r="5.9"/><circle cx="690.0" cy="420.0" r="5.9"/><circle cx="712.0" cy="420.0" r="5.9"/><circle cx="726.6" cy="420.0" r="5.9"/><circle cx="741.2" cy="420.0" r="5.9"/><circle cx="755.9" cy="420.0" r="5.9"/><circle cx="653.5" cy="424.7" r="5.9"/><circle cx="668.1" cy="424.7" r="5.9"/><circle cx="690.0" cy="424.7" r="5.9"/><circle cx="697.3" cy="424.7" r="5.9"/><circle cx="733.9" cy="424.7" r="5.9"/><circle cx="638.8" cy="429.4" r="5.9"/><circle cx="660.8" cy="429.4" r="5.9"/><circle cx="668.1" cy="429.4" r="5.9"/><circle cx="682.7" cy="429.4" r="5.9"/><circle cx="690.0" cy="429.4" r="5.9"/><circle cx="755.9" cy="429.4" r="5.9"/><circle cx="631.5" cy="434.1" r="5.9"/><circle cx="638.8" cy="434.1" r="5.9"/><circle cx="660.8" cy="434.1" r="5.9"/><circle cx="668.1" cy="434.1" r="5.9"/><circle cx="704.7" cy="434.1" r="5.9"/><circle cx="719.3" cy="434.1" r="5.9"/><circle cx="733.9" cy="434.1" r="5.9"/><circle cx="748.5" cy="434.1" r="5.9"/><circle cx="631.5" cy="438.8" r="5.9"/><circle cx="638.8" cy="438.8" r="5.9"/><circle cx="646.1" cy="438.8" r="5.9"/><circle cx="660.8" cy="438.8" r="5.9"/><circle cx="675.4" cy="438.8" r="5.9"/><circle cx="704.7" cy="438.8" r="5.9"/><circle cx="719.3" cy="438.8" r="5.9"/><circle cx="733.9" cy="438.8" r="5.9"/><circle cx="748.5" cy="438.8" r="5.9"/><circle cx="660.8" cy="443.5" r="5.9"/><circle cx="660.8" cy="448.2" r="5.9"/><circle cx="675.4" cy="448.2" r="5.9"/><circle cx="719.3" cy="448.2" r="5.9"/><circle cx="763.2" cy="448.2" r="5.9"/><circle cx="638.8" cy="452.9" r="5.9"/><circle cx="646.1" cy="452.9" r="5.9"/><circle cx="660.8" cy="452.9" r="5.9"/><circle cx="704.7" cy="452.9" r="5.9"/><circle cx="726.6" cy="452.9" r="5.9"/><circle cx="660.8" cy="457.6" r="5.9"/><circle cx="668.1" cy="457.6" r="5.9"/><circle cx="719.3" cy="457.6" r="5.9"/><circle cx="733.9" cy="457.6" r="5.9"/><circle cx="763.2" cy="457.6" r="5.9"/><circle cx="646.1" cy="462.3" r="5.9"/><circle cx="668.1" cy="462.3" r="5.9"/><circle cx="682.7" cy="462.3" r="5.9"/><circle cx="660.8" cy="471.8" r="5.9"/><circle cx="668.1" cy="471.8" r="5.9"/><circle cx="675.4" cy="471.8" r="5.9"/><circle cx="690.0" cy="471.8" r="5.9"/><circle cx="719.3" cy="476.5" r="5.9"/><circle cx="726.6" cy="481.2" r="5.9"/><circle cx="690.0" cy="485.9" r="5.9"/><circle cx="682.7" cy="495.3" r="5.9"/><circle cx="690.0" cy="504.7" r="5.9"/><circle cx="660.8" cy="528.2" r="5.9"/><circle cx="770.5" cy="528.2" r="5.9"/><circle cx="843.6" cy="156.7" r="5.9"/><circle cx="763.2" cy="208.4" r="5.9"/><circle cx="785.1" cy="208.4" r="5.9"/><circle cx="821.7" cy="208.4" r="5.9"/><circle cx="858.3" cy="208.4" r="5.9"/><circle cx="821.7" cy="213.1" r="5.9"/><circle cx="858.3" cy="213.1" r="5.9"/><circle cx="814.4" cy="222.5" r="5.9"/><circle cx="821.7" cy="222.5" r="5.9"/><circle cx="836.3" cy="222.5" r="5.9"/><circle cx="814.4" cy="232.0" r="5.9"/><circle cx="792.4" cy="236.7" r="5.9"/><circle cx="858.3" cy="236.7" r="5.9"/><circle cx="843.6" cy="241.4" r="5.9"/><circle cx="821.7" cy="246.1" r="5.9"/><circle cx="829.0" cy="246.1" r="5.9"/><circle cx="872.9" cy="246.1" r="5.9"/><circle cx="792.4" cy="250.8" r="5.9"/><circle cx="807.1" cy="250.8" r="5.9"/><circle cx="865.6" cy="250.8" r="5.9"/><circle cx="777.8" cy="255.5" r="5.9"/><circle cx="843.6" cy="255.5" r="5.9"/><circle cx="865.6" cy="255.5" r="5.9"/><circle cx="821.7" cy="260.2" r="5.9"/><circle cx="843.6" cy="260.2" r="5.9"/><circle cx="872.9" cy="260.2" r="5.9"/><circle cx="829.0" cy="264.9" r="5.9"/><circle cx="777.8" cy="269.6" r="5.9"/><circle cx="799.8" cy="269.6" r="5.9"/><circle cx="821.7" cy="269.6" r="5.9"/><circle cx="785.1" cy="274.3" r="5.9"/><circle cx="807.1" cy="274.3" r="5.9"/><circle cx="814.4" cy="274.3" r="5.9"/><circle cx="829.0" cy="274.3" r="5.9"/><circle cx="851.0" cy="274.3" r="5.9"/><circle cx="872.9" cy="274.3" r="5.9"/><circle cx="799.8" cy="279.0" r="5.9"/><circle cx="814.4" cy="279.0" r="5.9"/><circle cx="858.3" cy="279.0" r="5.9"/><circle cx="792.4" cy="283.7" r="5.9"/><circle cx="843.6" cy="283.7" r="5.9"/><circle cx="872.9" cy="283.7" r="5.9"/><circle cx="799.8" cy="288.4" r="5.9"/><circle cx="807.1" cy="288.4" r="5.9"/><circle cx="814.4" cy="288.4" r="5.9"/><circle cx="821.7" cy="288.4" r="5.9"/><circle cx="851.0" cy="288.4" r="5.9"/><circle cx="858.3" cy="288.4" r="5.9"/><circle cx="872.9" cy="288.4" r="5.9"/><circle cx="770.5" cy="293.1" r="5.9"/><circle cx="785.1" cy="293.1" r="5.9"/><circle cx="792.4" cy="293.1" r="5.9"/><circle cx="829.0" cy="293.1" r="5.9"/><circle cx="843.6" cy="293.1" r="5.9"/><circle cx="777.8" cy="297.8" r="5.9"/><circle cx="792.4" cy="297.8" r="5.9"/><circle cx="799.8" cy="297.8" r="5.9"/><circle cx="807.1" cy="297.8" r="5.9"/><circle cx="814.4" cy="297.8" r="5.9"/><circle cx="821.7" cy="297.8" r="5.9"/><circle cx="829.0" cy="297.8" r="5.9"/><circle cx="843.6" cy="297.8" r="5.9"/><circle cx="858.3" cy="297.8" r="5.9"/><circle cx="865.6" cy="297.8" r="5.9"/><circle cx="872.9" cy="297.8" r="5.9"/><circle cx="770.5" cy="302.5" r="5.9"/><circle cx="792.4" cy="302.5" r="5.9"/><circle cx="799.8" cy="302.5" r="5.9"/><circle cx="829.0" cy="302.5" r="5.9"/><circle cx="843.6" cy="302.5" r="5.9"/><circle cx="770.5" cy="307.2" r="5.9"/><circle cx="799.8" cy="307.2" r="5.9"/><circle cx="814.4" cy="307.2" r="5.9"/><circle cx="843.6" cy="307.2" r="5.9"/><circle cx="865.6" cy="307.2" r="5.9"/><circle cx="777.8" cy="311.9" r="5.9"/><circle cx="799.8" cy="311.9" r="5.9"/><circle cx="858.3" cy="311.9" r="5.9"/><circle cx="865.6" cy="311.9" r="5.9"/><circle cx="770.5" cy="316.6" r="5.9"/><circle cx="785.1" cy="316.6" r="5.9"/><circle cx="799.8" cy="316.6" r="5.9"/><circle cx="836.3" cy="316.6" r="5.9"/><circle cx="792.4" cy="321.3" r="5.9"/><circle cx="807.1" cy="321.3" r="5.9"/><circle cx="814.4" cy="321.3" r="5.9"/><circle cx="821.7" cy="321.3" r="5.9"/><circle cx="829.0" cy="321.3" r="5.9"/><circle cx="836.3" cy="321.3" r="5.9"/><circle cx="843.6" cy="321.3" r="5.9"/><circle cx="851.0" cy="321.3" r="5.9"/><circle cx="858.3" cy="321.3" r="5.9"/><circle cx="777.8" cy="326.0" r="5.9"/><circle cx="799.8" cy="326.0" r="5.9"/><circle cx="851.0" cy="326.0" r="5.9"/><circle cx="770.5" cy="330.7" r="5.9"/><circle cx="777.8" cy="330.7" r="5.9"/><circle cx="785.1" cy="330.7" r="5.9"/><circle cx="792.4" cy="330.7" r="5.9"/><circle cx="799.8" cy="330.7" r="5.9"/><circle cx="821.7" cy="330.7" r="5.9"/><circle cx="829.0" cy="330.7" r="5.9"/><circle cx="836.3" cy="330.7" r="5.9"/><circle cx="851.0" cy="330.7" r="5.9"/><circle cx="770.5" cy="335.4" r="5.9"/><circle cx="785.1" cy="335.4" r="5.9"/><circle cx="858.3" cy="335.4" r="5.9"/><circle cx="872.9" cy="335.4" r="5.9"/><circle cx="777.8" cy="340.1" r="5.9"/><circle cx="792.4" cy="340.1" r="5.9"/><circle cx="807.1" cy="340.1" r="5.9"/><circle cx="814.4" cy="340.1" r="5.9"/><circle cx="851.0" cy="340.1" r="5.9"/><circle cx="858.3" cy="340.1" r="5.9"/><circle cx="865.6" cy="340.1" r="5.9"/><circle cx="770.5" cy="344.8" r="5.9"/><circle cx="785.1" cy="344.8" r="5.9"/><circle cx="799.8" cy="344.8" r="5.9"/><circle cx="858.3" cy="344.8" r="5.9"/><circle cx="872.9" cy="344.8" r="5.9"/><circle cx="792.4" cy="349.5" r="5.9"/><circle cx="829.0" cy="349.5" r="5.9"/><circle cx="836.3" cy="349.5" r="5.9"/><circle cx="777.8" cy="354.2" r="5.9"/><circle cx="807.1" cy="354.2" r="5.9"/><circle cx="821.7" cy="354.2" r="5.9"/><circle cx="829.0" cy="354.2" r="5.9"/><circle cx="836.3" cy="354.2" r="5.9"/><circle cx="851.0" cy="354.2" r="5.9"/><circle cx="872.9" cy="354.2" r="5.9"/><circle cx="770.5" cy="358.9" r="5.9"/><circle cx="785.1" cy="358.9" r="5.9"/><circle cx="770.5" cy="363.6" r="5.9"/><circle cx="799.8" cy="363.6" r="5.9"/><circle cx="814.4" cy="363.6" r="5.9"/><circle cx="821.7" cy="363.6" r="5.9"/><circle cx="843.6" cy="363.6" r="5.9"/><circle cx="770.5" cy="368.3" r="5.9"/><circle cx="785.1" cy="368.3" r="5.9"/><circle cx="792.4" cy="368.3" r="5.9"/><circle cx="799.8" cy="368.3" r="5.9"/><circle cx="836.3" cy="368.3" r="5.9"/><circle cx="843.6" cy="368.3" r="5.9"/><circle cx="858.3" cy="368.3" r="5.9"/><circle cx="785.1" cy="373.0" r="5.9"/><circle cx="799.8" cy="373.0" r="5.9"/><circle cx="785.1" cy="377.7" r="5.9"/><circle cx="799.8" cy="377.7" r="5.9"/><circle cx="807.1" cy="377.7" r="5.9"/><circle cx="821.7" cy="377.7" r="5.9"/><circle cx="865.6" cy="377.7" r="5.9"/><circle cx="792.4" cy="382.4" r="5.9"/><circle cx="785.1" cy="387.1" r="5.9"/><circle cx="799.8" cy="387.1" r="5.9"/><circle cx="814.4" cy="387.1" r="5.9"/><circle cx="821.7" cy="387.1" r="5.9"/><circle cx="829.0" cy="387.1" r="5.9"/><circle cx="858.3" cy="387.1" r="5.9"/><circle cx="865.6" cy="387.1" r="5.9"/><circle cx="770.5" cy="391.8" r="5.9"/><circle cx="777.8" cy="391.8" r="5.9"/><circle cx="799.8" cy="391.8" r="5.9"/><circle cx="807.1" cy="391.8" r="5.9"/><circle cx="858.3" cy="391.8" r="5.9"/><circle cx="785.1" cy="396.5" r="5.9"/><circle cx="799.8" cy="396.5" r="5.9"/><circle cx="829.0" cy="396.5" r="5.9"/><circle cx="851.0" cy="396.5" r="5.9"/><circle cx="777.8" cy="401.2" r="5.9"/><circle cx="799.8" cy="401.2" r="5.9"/><circle cx="814.4" cy="401.2" r="5.9"/><circle cx="829.0" cy="401.2" r="5.9"/><circle cx="851.0" cy="401.2" r="5.9"/><circle cx="799.8" cy="405.9" r="5.9"/><circle cx="836.3" cy="405.9" r="5.9"/><circle cx="777.8" cy="410.6" r="5.9"/><circle cx="792.4" cy="410.6" r="5.9"/><circle cx="799.8" cy="410.6" r="5.9"/><circle cx="807.1" cy="410.6" r="5.9"/><circle cx="821.7" cy="410.6" r="5.9"/><circle cx="858.3" cy="410.6" r="5.9"/><circle cx="872.9" cy="410.6" r="5.9"/><circle cx="785.1" cy="415.3" r="5.9"/><circle cx="821.7" cy="420.0" r="5.9"/><circle cx="770.5" cy="424.7" r="5.9"/><circle cx="836.3" cy="424.7" r="5.9"/><circle cx="792.4" cy="434.1" r="5.9"/><circle cx="821.7" cy="434.1" r="5.9"/><circle cx="785.1" cy="438.8" r="5.9"/><circle cx="770.5" cy="448.2" r="5.9"/><circle cx="624.2" cy="387.1" r="5.9"/><circle cx="631.5" cy="387.1" r="5.9"/><circle cx="602.3" cy="387.1" r="5.9"/><circle cx="587.6" cy="401.2" r="5.9"/><circle cx="594.9" cy="382.4" r="5.9"/><circle cx="616.9" cy="382.4" r="5.9"/>
</g>
<g class="p" clip-path="url(#cm)">
<circle cx="1032.4" cy="297.8" r="5.9"/><circle cx="1039.7" cy="344.8" r="5.9"/><circle cx="1208.0" cy="264.9" r="5.9"/><circle cx="1222.6" cy="297.8" r="5.9"/><circle cx="1178.7" cy="307.2" r="5.9"/><circle cx="1215.3" cy="316.6" r="5.9"/><circle cx="1208.0" cy="321.3" r="5.9"/><circle cx="1156.8" cy="340.1" r="5.9"/><circle cx="1164.1" cy="349.5" r="5.9"/><circle cx="1215.3" cy="344.8" r="5.9"/><circle cx="1208.0" cy="354.2" r="5.9"/><circle cx="1156.8" cy="363.6" r="5.9"/><circle cx="1149.5" cy="373.0" r="5.9"/><circle cx="1149.5" cy="387.1" r="5.9"/><circle cx="1149.5" cy="396.5" r="5.9"/><circle cx="1164.1" cy="405.9" r="5.9"/><circle cx="1208.0" cy="363.6" r="5.9"/><circle cx="1200.7" cy="368.3" r="5.9"/><circle cx="1222.6" cy="377.7" r="5.9"/><circle cx="1229.9" cy="377.7" r="5.9"/><circle cx="1193.3" cy="387.1" r="5.9"/><circle cx="1208.0" cy="387.1" r="5.9"/><circle cx="1193.3" cy="410.6" r="5.9"/><circle cx="1244.5" cy="401.2" r="5.9"/><circle cx="1244.5" cy="405.9" r="5.9"/><circle cx="981.2" cy="410.6" r="5.9"/><circle cx="973.9" cy="420.0" r="5.9"/><circle cx="973.9" cy="438.8" r="5.9"/><circle cx="1215.3" cy="424.7" r="5.9"/><circle cx="1222.6" cy="424.7" r="5.9"/><circle cx="1186.0" cy="438.8" r="5.9"/><circle cx="1193.3" cy="438.8" r="5.9"/><circle cx="1200.7" cy="438.8" r="5.9"/><circle cx="1229.9" cy="438.8" r="5.9"/><circle cx="1237.2" cy="438.8" r="5.9"/><circle cx="1164.1" cy="443.5" r="5.9"/><circle cx="1112.9" cy="448.2" r="5.9"/><circle cx="1208.0" cy="457.6" r="5.9"/><circle cx="1039.7" cy="462.3" r="5.9"/><circle cx="1229.9" cy="462.3" r="5.9"/><circle cx="1083.6" cy="471.8" r="5.9"/><circle cx="1083.6" cy="514.1" r="5.9"/><circle cx="1193.3" cy="528.2" r="5.9"/><circle cx="973.9" cy="565.8" r="5.9"/><circle cx="1244.5" cy="471.8" r="5.9"/><circle cx="1237.2" cy="495.3" r="5.9"/><circle cx="1244.5" cy="509.4" r="5.9"/><circle cx="1449.4" cy="194.3" r="5.9"/><circle cx="1529.8" cy="203.7" r="5.9"/><circle cx="1515.2" cy="213.1" r="5.9"/><circle cx="1522.5" cy="222.5" r="5.9"/><circle cx="1354.3" cy="264.9" r="5.9"/><circle cx="1537.1" cy="222.5" r="5.9"/><circle cx="1551.8" cy="213.1" r="5.9"/><circle cx="1595.7" cy="213.1" r="5.9"/><circle cx="1632.2" cy="194.3" r="5.9"/><circle cx="1661.5" cy="199.0" r="5.9"/><circle cx="1624.9" cy="222.5" r="5.9"/><circle cx="1588.3" cy="232.0" r="5.9"/><circle cx="1544.5" cy="236.7" r="5.9"/><circle cx="1551.8" cy="236.7" r="5.9"/><circle cx="1632.2" cy="236.7" r="5.9"/><circle cx="1661.5" cy="236.7" r="5.9"/><circle cx="1361.6" cy="274.3" r="5.9"/><circle cx="1376.2" cy="274.3" r="5.9"/><circle cx="1368.9" cy="279.0" r="5.9"/><circle cx="1281.1" cy="279.0" r="5.9"/><circle cx="1398.2" cy="279.0" r="5.9"/><circle cx="1368.9" cy="283.7" r="5.9"/><circle cx="1376.2" cy="283.7" r="5.9"/><circle cx="1339.6" cy="288.4" r="5.9"/><circle cx="1354.3" cy="288.4" r="5.9"/><circle cx="1347.0" cy="293.1" r="5.9"/><circle cx="1390.8" cy="293.1" r="5.9"/><circle cx="1383.5" cy="297.8" r="5.9"/><circle cx="1266.5" cy="302.5" r="5.9"/><circle cx="1295.8" cy="307.2" r="5.9"/><circle cx="1332.3" cy="307.2" r="5.9"/><circle cx="1376.2" cy="311.9" r="5.9"/><circle cx="1390.8" cy="311.9" r="5.9"/><circle cx="1325.0" cy="316.6" r="5.9"/><circle cx="1376.2" cy="316.6" r="5.9"/><circle cx="1390.8" cy="316.6" r="5.9"/><circle cx="1303.1" cy="321.3" r="5.9"/><circle cx="1339.6" cy="321.3" r="5.9"/><circle cx="1361.6" cy="321.3" r="5.9"/><circle cx="1383.5" cy="321.3" r="5.9"/><circle cx="1398.2" cy="321.3" r="5.9"/><circle cx="1361.6" cy="326.0" r="5.9"/><circle cx="1288.4" cy="330.7" r="5.9"/><circle cx="1361.6" cy="330.7" r="5.9"/><circle cx="1273.8" cy="335.4" r="5.9"/><circle cx="1281.1" cy="335.4" r="5.9"/><circle cx="1354.3" cy="335.4" r="5.9"/><circle cx="1390.8" cy="335.4" r="5.9"/><circle cx="1398.2" cy="335.4" r="5.9"/><circle cx="1383.5" cy="340.1" r="5.9"/><circle cx="1332.3" cy="344.8" r="5.9"/><circle cx="1368.9" cy="344.8" r="5.9"/><circle cx="1266.5" cy="349.5" r="5.9"/><circle cx="1332.3" cy="349.5" r="5.9"/><circle cx="1354.3" cy="349.5" r="5.9"/><circle cx="1376.2" cy="349.5" r="5.9"/><circle cx="1383.5" cy="349.5" r="5.9"/><circle cx="1281.1" cy="354.2" r="5.9"/><circle cx="1310.4" cy="354.2" r="5.9"/><circle cx="1347.0" cy="354.2" r="5.9"/><circle cx="1383.5" cy="354.2" r="5.9"/><circle cx="1266.5" cy="363.6" r="5.9"/><circle cx="1281.1" cy="363.6" r="5.9"/><circle cx="1339.6" cy="363.6" r="5.9"/><circle cx="1347.0" cy="363.6" r="5.9"/><circle cx="1354.3" cy="363.6" r="5.9"/><circle cx="1368.9" cy="363.6" r="5.9"/><circle cx="1383.5" cy="363.6" r="5.9"/><circle cx="1398.2" cy="363.6" r="5.9"/><circle cx="1317.7" cy="368.3" r="5.9"/><circle cx="1325.0" cy="368.3" r="5.9"/><circle cx="1339.6" cy="368.3" r="5.9"/><circle cx="1259.2" cy="373.0" r="5.9"/><circle cx="1325.0" cy="373.0" r="5.9"/><circle cx="1368.9" cy="373.0" r="5.9"/><circle cx="1376.2" cy="373.0" r="5.9"/><circle cx="1398.2" cy="373.0" r="5.9"/><circle cx="1251.9" cy="377.7" r="5.9"/><circle cx="1281.1" cy="377.7" r="5.9"/><circle cx="1368.9" cy="377.7" r="5.9"/><circle cx="1273.8" cy="387.1" r="5.9"/><circle cx="1295.8" cy="387.1" r="5.9"/><circle cx="1310.4" cy="387.1" r="5.9"/><circle cx="1332.3" cy="387.1" r="5.9"/><circle cx="1354.3" cy="387.1" r="5.9"/><circle cx="1368.9" cy="387.1" r="5.9"/><circle cx="1383.5" cy="387.1" r="5.9"/><circle cx="1398.2" cy="387.1" r="5.9"/><circle cx="1251.9" cy="396.5" r="5.9"/><circle cx="1332.3" cy="396.5" r="5.9"/><circle cx="1368.9" cy="396.5" r="5.9"/><circle cx="1273.8" cy="401.2" r="5.9"/><circle cx="1281.1" cy="401.2" r="5.9"/><circle cx="1303.1" cy="401.2" r="5.9"/><circle cx="1361.6" cy="401.2" r="5.9"/><circle cx="1368.9" cy="401.2" r="5.9"/><circle cx="1383.5" cy="401.2" r="5.9"/><circle cx="1390.8" cy="401.2" r="5.9"/><circle cx="1398.2" cy="401.2" r="5.9"/><circle cx="1310.4" cy="405.9" r="5.9"/><circle cx="1347.0" cy="405.9" r="5.9"/><circle cx="1354.3" cy="405.9" r="5.9"/><circle cx="1361.6" cy="405.9" r="5.9"/><circle cx="1390.8" cy="405.9" r="5.9"/><circle cx="1398.2" cy="405.9" r="5.9"/><circle cx="1310.4" cy="410.6" r="5.9"/><circle cx="1347.0" cy="410.6" r="5.9"/><circle cx="1354.3" cy="410.6" r="5.9"/><circle cx="1361.6" cy="410.6" r="5.9"/><circle cx="1390.8" cy="410.6" r="5.9"/><circle cx="1398.2" cy="410.6" r="5.9"/><circle cx="1295.8" cy="415.3" r="5.9"/><circle cx="1310.4" cy="415.3" r="5.9"/><circle cx="1376.2" cy="415.3" r="5.9"/><circle cx="1266.5" cy="420.0" r="5.9"/><circle cx="1273.8" cy="420.0" r="5.9"/><circle cx="1332.3" cy="420.0" r="5.9"/><circle cx="1273.8" cy="424.7" r="5.9"/><circle cx="1288.4" cy="424.7" r="5.9"/><circle cx="1251.9" cy="429.4" r="5.9"/><circle cx="1317.7" cy="429.4" r="5.9"/><circle cx="1376.2" cy="429.4" r="5.9"/><circle cx="1398.2" cy="429.4" r="5.9"/><circle cx="1251.9" cy="434.1" r="5.9"/><circle cx="1398.2" cy="434.1" r="5.9"/><circle cx="1295.8" cy="438.8" r="5.9"/><circle cx="1259.2" cy="443.5" r="5.9"/><circle cx="1354.3" cy="443.5" r="5.9"/><circle cx="1295.8" cy="448.2" r="5.9"/><circle cx="1339.6" cy="448.2" r="5.9"/><circle cx="1354.3" cy="452.9" r="5.9"/><circle cx="1288.4" cy="457.6" r="5.9"/><circle cx="1310.4" cy="457.6" r="5.9"/><circle cx="1281.1" cy="462.3" r="5.9"/><circle cx="1339.6" cy="462.3" r="5.9"/><circle cx="1368.9" cy="462.3" r="5.9"/><circle cx="1376.2" cy="462.3" r="5.9"/><circle cx="1295.8" cy="471.8" r="5.9"/><circle cx="1310.4" cy="471.8" r="5.9"/><circle cx="1383.5" cy="471.8" r="5.9"/><circle cx="1303.1" cy="481.2" r="5.9"/><circle cx="1376.2" cy="481.2" r="5.9"/><circle cx="1281.1" cy="485.9" r="5.9"/><circle cx="1325.0" cy="485.9" r="5.9"/><circle cx="1251.9" cy="504.7" r="5.9"/><circle cx="1317.7" cy="514.1" r="5.9"/><circle cx="1471.3" cy="246.1" r="5.9"/><circle cx="1493.2" cy="246.1" r="5.9"/><circle cx="1537.1" cy="246.1" r="5.9"/><circle cx="1434.7" cy="250.8" r="5.9"/><circle cx="1471.3" cy="250.8" r="5.9"/><circle cx="1493.2" cy="250.8" r="5.9"/><circle cx="1405.5" cy="260.2" r="5.9"/><circle cx="1434.7" cy="260.2" r="5.9"/><circle cx="1471.3" cy="260.2" r="5.9"/><circle cx="1478.6" cy="260.2" r="5.9"/><circle cx="1515.2" cy="260.2" r="5.9"/><circle cx="1434.7" cy="264.9" r="5.9"/><circle cx="1449.4" cy="264.9" r="5.9"/><circle cx="1544.5" cy="264.9" r="5.9"/><circle cx="1515.2" cy="269.6" r="5.9"/><circle cx="1529.8" cy="269.6" r="5.9"/><circle cx="1456.7" cy="274.3" r="5.9"/><circle cx="1507.9" cy="274.3" r="5.9"/><circle cx="1522.5" cy="274.3" r="5.9"/><circle cx="1537.1" cy="274.3" r="5.9"/><circle cx="1544.5" cy="274.3" r="5.9"/><circle cx="1456.7" cy="279.0" r="5.9"/><circle cx="1471.3" cy="279.0" r="5.9"/><circle cx="1522.5" cy="279.0" r="5.9"/><circle cx="1442.0" cy="283.7" r="5.9"/><circle cx="1515.2" cy="283.7" r="5.9"/><circle cx="1537.1" cy="283.7" r="5.9"/><circle cx="1544.5" cy="283.7" r="5.9"/><circle cx="1507.9" cy="288.4" r="5.9"/><circle cx="1515.2" cy="288.4" r="5.9"/><circle cx="1442.0" cy="293.1" r="5.9"/><circle cx="1464.0" cy="293.1" r="5.9"/><circle cx="1478.6" cy="293.1" r="5.9"/><circle cx="1522.5" cy="293.1" r="5.9"/><circle cx="1529.8" cy="293.1" r="5.9"/><circle cx="1434.7" cy="297.8" r="5.9"/><circle cx="1456.7" cy="297.8" r="5.9"/><circle cx="1485.9" cy="297.8" r="5.9"/><circle cx="1515.2" cy="297.8" r="5.9"/><circle cx="1522.5" cy="297.8" r="5.9"/><circle cx="1544.5" cy="293.1" r="5.9"/><circle cx="1420.1" cy="302.5" r="5.9"/><circle cx="1449.4" cy="302.5" r="5.9"/><circle cx="1471.3" cy="302.5" r="5.9"/><circle cx="1485.9" cy="302.5" r="5.9"/><circle cx="1537.1" cy="302.5" r="5.9"/><circle cx="1544.5" cy="302.5" r="5.9"/><circle cx="1456.7" cy="307.2" r="5.9"/><circle cx="1485.9" cy="307.2" r="5.9"/><circle cx="1493.2" cy="307.2" r="5.9"/><circle cx="1522.5" cy="307.2" r="5.9"/><circle cx="1420.1" cy="311.9" r="5.9"/><circle cx="1434.7" cy="311.9" r="5.9"/><circle cx="1442.0" cy="311.9" r="5.9"/><circle cx="1464.0" cy="311.9" r="5.9"/><circle cx="1485.9" cy="311.9" r="5.9"/><circle cx="1522.5" cy="311.9" r="5.9"/><circle cx="1420.1" cy="316.6" r="5.9"/><circle cx="1434.7" cy="316.6" r="5.9"/><circle cx="1464.0" cy="316.6" r="5.9"/><circle cx="1500.6" cy="316.6" r="5.9"/><circle cx="1507.9" cy="316.6" r="5.9"/><circle cx="1515.2" cy="316.6" r="5.9"/><circle cx="1537.1" cy="316.6" r="5.9"/><circle cx="1434.7" cy="321.3" r="5.9"/><circle cx="1449.4" cy="321.3" r="5.9"/><circle cx="1456.7" cy="321.3" r="5.9"/><circle cx="1478.6" cy="321.3" r="5.9"/><circle cx="1485.9" cy="321.3" r="5.9"/><circle cx="1493.2" cy="321.3" r="5.9"/><circle cx="1500.6" cy="321.3" r="5.9"/><circle cx="1515.2" cy="321.3" r="5.9"/><circle cx="1464.0" cy="326.0" r="5.9"/><circle cx="1529.8" cy="326.0" r="5.9"/><circle cx="1405.5" cy="330.7" r="5.9"/><circle cx="1434.7" cy="330.7" r="5.9"/><circle cx="1442.0" cy="330.7" r="5.9"/><circle cx="1464.0" cy="330.7" r="5.9"/><circle cx="1478.6" cy="330.7" r="5.9"/><circle cx="1515.2" cy="330.7" r="5.9"/><circle cx="1522.5" cy="330.7" r="5.9"/><circle cx="1442.0" cy="335.4" r="5.9"/><circle cx="1471.3" cy="335.4" r="5.9"/><circle cx="1522.5" cy="335.4" r="5.9"/><circle cx="1544.5" cy="335.4" r="5.9"/><circle cx="1420.1" cy="340.1" r="5.9"/><circle cx="1434.7" cy="340.1" r="5.9"/><circle cx="1493.2" cy="340.1" r="5.9"/><circle cx="1500.6" cy="340.1" r="5.9"/><circle cx="1507.9" cy="340.1" r="5.9"/><circle cx="1522.5" cy="340.1" r="5.9"/><circle cx="1544.5" cy="340.1" r="5.9"/><circle cx="1420.1" cy="344.8" r="5.9"/><circle cx="1456.7" cy="344.8" r="5.9"/><circle cx="1471.3" cy="344.8" r="5.9"/><circle cx="1485.9" cy="344.8" r="5.9"/><circle cx="1515.2" cy="344.8" r="5.9"/><circle cx="1544.5" cy="344.8" r="5.9"/><circle cx="1420.1" cy="349.5" r="5.9"/><circle cx="1449.4" cy="349.5" r="5.9"/><circle cx="1471.3" cy="349.5" r="5.9"/><circle cx="1485.9" cy="349.5" r="5.9"/><circle cx="1507.9" cy="349.5" r="5.9"/><circle cx="1515.2" cy="349.5" r="5.9"/><circle cx="1529.8" cy="349.5" r="5.9"/><circle cx="1412.8" cy="354.2" r="5.9"/><circle cx="1434.7" cy="354.2" r="5.9"/><circle cx="1442.0" cy="354.2" r="5.9"/><circle cx="1464.0" cy="354.2" r="5.9"/><circle cx="1471.3" cy="354.2" r="5.9"/><circle cx="1507.9" cy="354.2" r="5.9"/><circle cx="1529.8" cy="354.2" r="5.9"/><circle cx="1537.1" cy="354.2" r="5.9"/><circle cx="1427.4" cy="358.9" r="5.9"/><circle cx="1478.6" cy="358.9" r="5.9"/><circle cx="1493.2" cy="358.9" r="5.9"/><circle cx="1464.0" cy="363.6" r="5.9"/><circle cx="1471.3" cy="363.6" r="5.9"/><circle cx="1485.9" cy="363.6" r="5.9"/><circle cx="1500.6" cy="363.6" r="5.9"/><circle cx="1522.5" cy="363.6" r="5.9"/><circle cx="1537.1" cy="363.6" r="5.9"/><circle cx="1427.4" cy="368.3" r="5.9"/><circle cx="1434.7" cy="368.3" r="5.9"/><circle cx="1449.4" cy="368.3" r="5.9"/><circle cx="1485.9" cy="368.3" r="5.9"/><circle cx="1515.2" cy="368.3" r="5.9"/><circle cx="1405.5" cy="373.0" r="5.9"/><circle cx="1412.8" cy="373.0" r="5.9"/><circle cx="1449.4" cy="373.0" r="5.9"/><circle cx="1500.6" cy="373.0" r="5.9"/><circle cx="1507.9" cy="373.0" r="5.9"/><circle cx="1537.1" cy="373.0" r="5.9"/><circle cx="1434.7" cy="377.7" r="5.9"/><circle cx="1449.4" cy="377.7" r="5.9"/><circle cx="1464.0" cy="377.7" r="5.9"/><circle cx="1478.6" cy="377.7" r="5.9"/><circle cx="1493.2" cy="377.7" r="5.9"/><circle cx="1522.5" cy="377.7" r="5.9"/><circle cx="1529.8" cy="377.7" r="5.9"/><circle cx="1537.1" cy="377.7" r="5.9"/><circle cx="1420.1" cy="382.4" r="5.9"/><circle cx="1456.7" cy="382.4" r="5.9"/><circle cx="1405.5" cy="387.1" r="5.9"/><circle cx="1412.8" cy="387.1" r="5.9"/><circle cx="1420.1" cy="387.1" r="5.9"/><circle cx="1434.7" cy="387.1" r="5.9"/><circle cx="1449.4" cy="387.1" r="5.9"/><circle cx="1456.7" cy="387.1" r="5.9"/><circle cx="1464.0" cy="387.1" r="5.9"/><circle cx="1471.3" cy="387.1" r="5.9"/><circle cx="1485.9" cy="387.1" r="5.9"/><circle cx="1537.1" cy="387.1" r="5.9"/><circle cx="1449.4" cy="391.8" r="5.9"/><circle cx="1471.3" cy="391.8" r="5.9"/><circle cx="1507.9" cy="391.8" r="5.9"/><circle cx="1420.1" cy="396.5" r="5.9"/><circle cx="1434.7" cy="396.5" r="5.9"/><circle cx="1485.9" cy="396.5" r="5.9"/><circle cx="1507.9" cy="396.5" r="5.9"/><circle cx="1522.5" cy="396.5" r="5.9"/><circle cx="1529.8" cy="396.5" r="5.9"/><circle cx="1507.9" cy="401.2" r="5.9"/><circle cx="1522.5" cy="401.2" r="5.9"/><circle cx="1529.8" cy="401.2" r="5.9"/><circle cx="1544.5" cy="401.2" r="5.9"/><circle cx="1434.7" cy="405.9" r="5.9"/><circle cx="1449.4" cy="405.9" r="5.9"/><circle cx="1471.3" cy="405.9" r="5.9"/><circle cx="1478.6" cy="405.9" r="5.9"/><circle cx="1485.9" cy="405.9" r="5.9"/><circle cx="1405.5" cy="410.6" r="5.9"/><circle cx="1420.1" cy="410.6" r="5.9"/><circle cx="1456.7" cy="410.6" r="5.9"/><circle cx="1485.9" cy="410.6" r="5.9"/><circle cx="1412.8" cy="415.3" r="5.9"/><circle cx="1427.4" cy="415.3" r="5.9"/><circle cx="1449.4" cy="415.3" r="5.9"/><circle cx="1456.7" cy="415.3" r="5.9"/><circle cx="1522.5" cy="415.3" r="5.9"/><circle cx="1420.1" cy="420.0" r="5.9"/><circle cx="1485.9" cy="424.7" r="5.9"/><circle cx="1522.5" cy="424.7" r="5.9"/><circle cx="1529.8" cy="424.7" r="5.9"/><circle cx="1537.1" cy="424.7" r="5.9"/><circle cx="1449.4" cy="429.4" r="5.9"/><circle cx="1464.0" cy="434.1" r="5.9"/><circle cx="1529.8" cy="434.1" r="5.9"/><circle cx="1412.8" cy="438.8" r="5.9"/><circle cx="1420.1" cy="438.8" r="5.9"/><circle cx="1427.4" cy="438.8" r="5.9"/><circle cx="1456.7" cy="438.8" r="5.9"/><circle cx="1485.9" cy="438.8" r="5.9"/><circle cx="1471.3" cy="443.5" r="5.9"/><circle cx="1412.8" cy="452.9" r="5.9"/><circle cx="1420.1" cy="457.6" r="5.9"/><circle cx="1405.5" cy="462.3" r="5.9"/><circle cx="1544.5" cy="471.8" r="5.9"/><circle cx="1478.6" cy="485.9" r="5.9"/><circle cx="1544.5" cy="485.9" r="5.9"/><circle cx="1610.3" cy="246.1" r="5.9"/><circle cx="1617.6" cy="246.1" r="5.9"/><circle cx="1654.2" cy="246.1" r="5.9"/><circle cx="1566.4" cy="250.8" r="5.9"/><circle cx="1581.0" cy="250.8" r="5.9"/><circle cx="1595.7" cy="250.8" r="5.9"/><circle cx="1617.6" cy="250.8" r="5.9"/><circle cx="1661.5" cy="250.8" r="5.9"/><circle cx="1646.9" cy="255.5" r="5.9"/><circle cx="1566.4" cy="260.2" r="5.9"/><circle cx="1595.7" cy="260.2" r="5.9"/><circle cx="1603.0" cy="260.2" r="5.9"/><circle cx="1654.2" cy="260.2" r="5.9"/><circle cx="1676.1" cy="260.2" r="5.9"/><circle cx="1573.7" cy="264.9" r="5.9"/><circle cx="1559.1" cy="269.6" r="5.9"/><circle cx="1610.3" cy="269.6" r="5.9"/><circle cx="1632.2" cy="269.6" r="5.9"/><circle cx="1676.1" cy="269.6" r="5.9"/><circle cx="1559.1" cy="274.3" r="5.9"/><circle cx="1610.3" cy="274.3" r="5.9"/><circle cx="1632.2" cy="274.3" r="5.9"/><circle cx="1639.5" cy="274.3" r="5.9"/><circle cx="1683.4" cy="274.3" r="5.9"/><circle cx="1566.4" cy="279.0" r="5.9"/><circle cx="1573.7" cy="279.0" r="5.9"/><circle cx="1581.0" cy="279.0" r="5.9"/><circle cx="1588.3" cy="279.0" r="5.9"/><circle cx="1595.7" cy="279.0" r="5.9"/><circle cx="1661.5" cy="279.0" r="5.9"/><circle cx="1668.8" cy="279.0" r="5.9"/><circle cx="1566.4" cy="283.7" r="5.9"/><circle cx="1566.4" cy="288.4" r="5.9"/><circle cx="1661.5" cy="288.4" r="5.9"/><circle cx="1676.1" cy="288.4" r="5.9"/><circle cx="1559.1" cy="293.1" r="5.9"/><circle cx="1566.4" cy="293.1" r="5.9"/><circle cx="1595.7" cy="293.1" r="5.9"/><circle cx="1603.0" cy="293.1" r="5.9"/><circle cx="1639.5" cy="293.1" r="5.9"/><circle cx="1654.2" cy="293.1" r="5.9"/><circle cx="1559.1" cy="297.8" r="5.9"/><circle cx="1581.0" cy="297.8" r="5.9"/><circle cx="1595.7" cy="297.8" r="5.9"/><circle cx="1610.3" cy="297.8" r="5.9"/><circle cx="1646.9" cy="297.8" r="5.9"/><circle cx="1654.2" cy="297.8" r="5.9"/><circle cx="1588.3" cy="302.5" r="5.9"/><circle cx="1661.5" cy="302.5" r="5.9"/><circle cx="1668.8" cy="302.5" r="5.9"/><circle cx="1559.1" cy="307.2" r="5.9"/><circle cx="1603.0" cy="307.2" r="5.9"/><circle cx="1639.5" cy="307.2" r="5.9"/><circle cx="1573.7" cy="311.9" r="5.9"/><circle cx="1624.9" cy="311.9" r="5.9"/><circle cx="1632.2" cy="311.9" r="5.9"/><circle cx="1573.7" cy="316.6" r="5.9"/><circle cx="1581.0" cy="316.6" r="5.9"/><circle cx="1610.3" cy="316.6" r="5.9"/><circle cx="1624.9" cy="316.6" r="5.9"/><circle cx="1661.5" cy="316.6" r="5.9"/><circle cx="1551.8" cy="321.3" r="5.9"/><circle cx="1559.1" cy="321.3" r="5.9"/><circle cx="1566.4" cy="321.3" r="5.9"/><circle cx="1573.7" cy="321.3" r="5.9"/><circle cx="1581.0" cy="321.3" r="5.9"/><circle cx="1595.7" cy="321.3" r="5.9"/><circle cx="1603.0" cy="321.3" r="5.9"/><circle cx="1610.3" cy="321.3" r="5.9"/><circle cx="1646.9" cy="321.3" r="5.9"/><circle cx="1559.1" cy="330.7" r="5.9"/><circle cx="1581.0" cy="330.7" r="5.9"/><circle cx="1595.7" cy="330.7" r="5.9"/><circle cx="1610.3" cy="330.7" r="5.9"/><circle cx="1617.6" cy="330.7" r="5.9"/><circle cx="1624.9" cy="330.7" r="5.9"/><circle cx="1639.5" cy="330.7" r="5.9"/><circle cx="1646.9" cy="330.7" r="5.9"/><circle cx="1654.2" cy="330.7" r="5.9"/><circle cx="1683.4" cy="330.7" r="5.9"/><circle cx="1588.3" cy="335.4" r="5.9"/><circle cx="1676.1" cy="335.4" r="5.9"/><circle cx="1551.8" cy="340.1" r="5.9"/><circle cx="1559.1" cy="340.1" r="5.9"/><circle cx="1654.2" cy="340.1" r="5.9"/><circle cx="1551.8" cy="344.8" r="5.9"/><circle cx="1573.7" cy="344.8" r="5.9"/><circle cx="1573.7" cy="349.5" r="5.9"/><circle cx="1573.7" cy="354.2" r="5.9"/><circle cx="1581.0" cy="354.2" r="5.9"/><circle cx="1610.3" cy="354.2" r="5.9"/><circle cx="1617.6" cy="354.2" r="5.9"/><circle cx="1624.9" cy="354.2" r="5.9"/><circle cx="1683.4" cy="354.2" r="5.9"/><circle cx="1690.8" cy="354.2" r="5.9"/><circle cx="1551.8" cy="363.6" r="5.9"/><circle cx="1566.4" cy="363.6" r="5.9"/><circle cx="1581.0" cy="363.6" r="5.9"/><circle cx="1588.3" cy="363.6" r="5.9"/><circle cx="1610.3" cy="363.6" r="5.9"/><circle cx="1632.2" cy="363.6" r="5.9"/><circle cx="1654.2" cy="363.6" r="5.9"/><circle cx="1588.3" cy="368.3" r="5.9"/><circle cx="1639.5" cy="368.3" r="5.9"/><circle cx="1588.3" cy="373.0" r="5.9"/><circle cx="1603.0" cy="373.0" r="5.9"/><circle cx="1566.4" cy="377.7" r="5.9"/><circle cx="1617.6" cy="377.7" r="5.9"/><circle cx="1661.5" cy="377.7" r="5.9"/><circle cx="1668.8" cy="377.7" r="5.9"/><circle cx="1551.8" cy="387.1" r="5.9"/><circle cx="1573.7" cy="387.1" r="5.9"/><circle cx="1588.3" cy="387.1" r="5.9"/><circle cx="1624.9" cy="387.1" r="5.9"/><circle cx="1581.0" cy="391.8" r="5.9"/><circle cx="1551.8" cy="396.5" r="5.9"/><circle cx="1632.2" cy="396.5" r="5.9"/><circle cx="1566.4" cy="401.2" r="5.9"/><circle cx="1581.0" cy="401.2" r="5.9"/><circle cx="1595.7" cy="401.2" r="5.9"/><circle cx="1646.9" cy="410.6" r="5.9"/><circle cx="1581.0" cy="415.3" r="5.9"/><circle cx="1581.0" cy="424.7" r="5.9"/><circle cx="1551.8" cy="429.4" r="5.9"/><circle cx="1588.3" cy="438.8" r="5.9"/>
</g>
<path class="r" style="stroke-width:1.8" d="M107.1 246.1h24.5M107.1 274.3h24.5M107.1 279.0h24.5M107.1 283.7h24.5M107.1 297.8h24.5M107.1 302.5h24.5M107.1 307.2h24.5M107.1 311.9h24.5M107.1 321.3h24.5M107.1 330.7h24.5M107.1 335.4h24.5M107.1 340.1h24.5M107.1 344.8h24.5M107.1 349.5h24.5M107.1 354.2h24.5M107.1 363.6h24.5M107.1 368.3h24.5M107.1 373.0h24.5M107.1 377.7h24.5M107.1 387.1h24.5M107.1 391.8h24.5M107.1 396.5h24.5M107.1 401.2h24.5M107.1 410.6h24.5M107.1 415.3h24.5M107.1 420.0h24.5M107.1 424.7h24.5M107.1 429.4h24.5M107.1 438.8h24.5M107.1 448.2h24.5M107.1 452.9h24.5M107.1 462.3h24.5M107.1 471.8h24.5M107.1 476.5h24.5M107.1 485.9h24.5M107.1 495.3h24.5M107.1 514.1h24.5M924.6 189.6h24.5M924.6 241.4h24.5M924.6 246.1h24.5M924.6 260.2h24.5M924.6 269.6h24.5M924.6 274.3h24.5M924.6 279.0h24.5M924.6 293.1h24.5M924.6 302.5h24.5M924.6 307.2h24.5M924.6 311.9h24.5M924.6 321.3h24.5M924.6 330.7h24.5M924.6 335.4h24.5M924.6 340.1h24.5M924.6 344.8h24.5M924.6 349.5h24.5M924.6 354.2h24.5M924.6 363.6h24.5M924.6 368.3h24.5M924.6 373.0h24.5M924.6 377.7h24.5M924.6 387.1h24.5M924.6 396.5h24.5M924.6 401.2h24.5M924.6 405.9h24.5M924.6 410.6h24.5M924.6 415.3h24.5M924.6 420.0h24.5M924.6 424.7h24.5M924.6 429.4h24.5M924.6 438.8h24.5M924.6 443.5h24.5M924.6 457.6h24.5M924.6 462.3h24.5M924.6 471.8h24.5M924.6 485.9h24.5"/>
<path class="r" d="M280.6 605.7V591.8M339.1 605.7V591.8M375.6 605.7V591.8M397.6 605.7V591.8M404.9 605.7V591.8M412.2 605.7V591.8M448.8 605.7V591.8M485.4 605.7V591.8M492.7 605.7V591.8M500.0 605.7V591.8M507.3 605.7V591.8M521.9 605.7V591.8M529.3 605.7V591.8M536.6 605.7V591.8M543.9 605.7V591.8M551.2 605.7V591.8M558.5 605.7V591.8M565.8 605.7V591.8M573.1 605.7V591.8M587.8 605.7V591.8M595.1 605.7V591.8M602.4 605.7V591.8M609.7 605.7V591.8M617.0 605.7V591.8M624.3 605.7V591.8M631.7 605.7V591.8M639.0 605.7V591.8M646.3 605.7V591.8M653.6 605.7V591.8M660.9 605.7V591.8M668.2 605.7V591.8M675.6 605.7V591.8M682.9 605.7V591.8M690.2 605.7V591.8M697.5 605.7V591.8M704.8 605.7V591.8M712.1 605.7V591.8M719.4 605.7V591.8M726.8 605.7V591.8M734.1 605.7V591.8M741.4 605.7V591.8M748.7 605.7V591.8M756.0 605.7V591.8M763.3 605.7V591.8M770.6 605.7V591.8M778.0 605.7V591.8M785.3 605.7V591.8M799.9 605.7V591.8M807.2 605.7V591.8M814.5 605.7V591.8M821.8 605.7V591.8M829.2 605.7V591.8M836.5 605.7V591.8M851.1 605.7V591.8M865.7 605.7V591.8M873.1 605.7V591.8M1156.9 605.7V591.8M1186.2 605.7V591.8M1222.8 605.7V591.8M1244.7 605.7V591.8M1274.0 605.7V591.8M1295.9 605.7V591.8M1317.8 605.7V591.8M1325.2 605.7V591.8M1347.1 605.7V591.8M1354.4 605.7V591.8M1361.7 605.7V591.8M1369.0 605.7V591.8M1383.7 605.7V591.8M1391.0 605.7V591.8M1398.3 605.7V591.8M1405.6 605.7V591.8M1420.3 605.7V591.8M1442.2 605.7V591.8M1449.5 605.7V591.8M1456.8 605.7V591.8M1464.1 605.7V591.8M1471.5 605.7V591.8M1478.8 605.7V591.8M1486.1 605.7V591.8M1493.4 605.7V591.8M1500.7 605.7V591.8M1508.0 605.7V591.8M1515.3 605.7V591.8M1522.7 605.7V591.8M1530.0 605.7V591.8M1544.6 605.7V591.8M1551.9 605.7V591.8M1559.2 605.7V591.8M1573.9 605.7V591.8M1581.2 605.7V591.8M1588.5 605.7V591.8M1595.8 605.7V591.8M1603.1 605.7V591.8M1617.8 605.7V591.8M1625.1 605.7V591.8M1647.0 605.7V591.8M1669.0 605.7V591.8"/>
<rect x="106.5" y="91.3" width="1635" height="36.2" fill="#ffe5cc"/>
<path class="ax" d="M106.5 91.3H1741.5V606.3H106.5ZM106.5 127.5H1741.5M924 91.3V606.3"/>
<path class="ax" d="M106.5 579.9h-10M1741.5 579.9h10M106.5 485.9h-10M1741.5 485.9h10M106.5 391.8h-10M1741.5 391.8h10M106.5 297.8h-10M1741.5 297.8h10M106.5 203.7h-10M1741.5 203.7h10M241.3 606.3v10M241.3 91.3v-10M1059.2 606.3v10M1059.2 91.3v-10M399.4 606.3v10M399.4 91.3v-10M1217.2 606.3v10M1217.2 91.3v-10M557.4 606.3v10M557.4 91.3v-10M1375.2 606.3v10M1375.2 91.3v-10M715.4 606.3v10M715.4 91.3v-10M1533.2 606.3v10M1533.2 91.3v-10M873.4 606.3v10M873.4 91.3v-10M1691.2 606.3v10M1691.2 91.3v-10"/>
<text class="t" x="87.5" y="589.0" text-anchor="end">0</text>
<text class="t" x="87.5" y="495.0" text-anchor="end">20</text>
<text class="t" x="87.5" y="400.9" text-anchor="end">40</text>
<text class="t" x="87.5" y="306.9" text-anchor="end">60</text>
<text class="t" x="87.5" y="212.8" text-anchor="end">80</text>
<text class="t" x="241.3" y="643.8" text-anchor="middle">20</text>
<text class="t" x="1059.2" y="71.8" text-anchor="middle">20</text>
<text class="t" x="399.4" y="643.8" text-anchor="middle">40</text>
<text class="t" x="1217.2" y="71.8" text-anchor="middle">40</text>
<text class="t" x="557.4" y="643.8" text-anchor="middle">60</text>
<text class="t" x="1375.2" y="71.8" text-anchor="middle">60</text>
<text class="t" x="715.4" y="643.8" text-anchor="middle">80</text>
<text class="t" x="1533.2" y="71.8" text-anchor="middle">80</text>
<text class="t" x="873.4" y="643.8" text-anchor="middle">100</text>
<text class="t" x="1691.2" y="71.8" text-anchor="middle">100</text>
<text class="l" style="font-size:31.6px" x="516.0" y="120.2" text-anchor="middle">F</text>
<text class="l" style="font-size:31.6px" x="1332.8" y="120.2" text-anchor="middle">M</text>
<text class="l" x="924" y="689.3" text-anchor="middle">course</text>
<text class="l" transform="translate(37.3 368.5) rotate(-90)" text-anchor="middle">written</text>
</svg></body></html>
